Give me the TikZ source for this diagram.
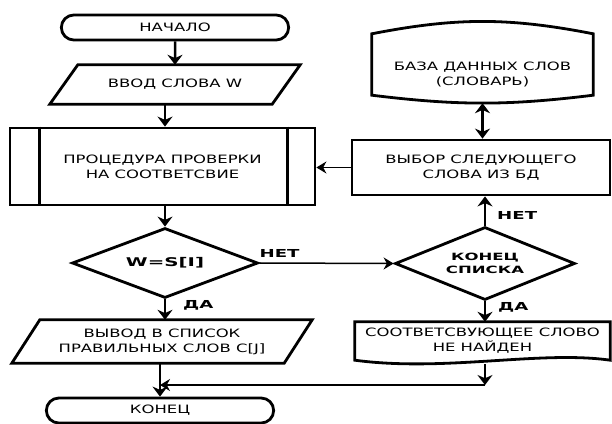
\documentclass[tikz,border=0pt]{standalone}
\usepackage{fontspec}
\setmainfont{DejaVu Sans}[FakeStretch=1.43]
\newfontfamily\flowbold{DejaVu Sans Bold}[FakeStretch=1.65]
\usepackage{tikz}
\usetikzlibrary{shapes.geometric, shapes.misc, arrows.meta, positioning, calc}

\begin{document}
\begin{tikzpicture}[
    x=1pt, y=-1pt,
    txt/.style={align=center, font=\fontsize{11.5}{15}\selectfont},
    term/.style={rounded rectangle, draw, line width=2.8pt, minimum width=234pt, minimum height=25pt, txt},
    io/.style={rectangle, inner sep=0pt, txt},
    proc/.style={rectangle, draw, line width=2.8pt, txt},
    dec/.style={diamond, aspect=2.5, draw, line width=2.8pt, inner sep=0pt, align=center, font=\flowbold\fontsize{10}{12.5}\selectfont},
    shapetext/.style={inner sep=0pt, txt},
    edge/.style={line width=2.8pt, line join=miter},
    lbl/.style={inner sep=0pt, font=\flowbold\fontsize{11}{12}\selectfont},
    arr/.style={-{Stealth[length=10pt, width=15pt]}, line width=2.5pt},
    thinarr/.style={-{Stealth[length=10pt, width=12pt]}, line width=1.5pt}
]
\useasboundingbox (0,0) rectangle (612,423);

% left column
\node[term] (start) at (175,27.5) {НАЧАЛО};
\node[io, minimum width=250pt, minimum height=39pt] (input) at (175,84.5) {ВВОД СЛОВА W};
\draw[edge] (input.south west) -- ($(input.north west)+(28,0)$) -- (input.north east)
    -- ($(input.south east)+(-28,0)$) -- cycle;
\node[proc, minimum width=305pt, minimum height=77pt] (check) at (162.5,166.5) {ПРОЦЕДУРА ПРОВЕРКИ\\НА СООТВЕТСВИЕ};
\draw[edge] ([xshift=31pt]check.north west) -- ([xshift=31pt]check.south west);
\draw[edge] ([xshift=-29pt]check.north east) -- ([xshift=-29pt]check.south east);
\node[dec, minimum width=186pt, minimum height=70pt, font=\flowbold\fontsize{12}{15}\selectfont] (cmp) at (165,263) {W=S[I]};
\node[io, minimum width=300pt, minimum height=43pt] (output) at (162,341.5) {ВЫВОД В СПИСОК\\ПРАВИЛЬНЫХ СЛОВ С[J]};
\draw[edge] (output.south west) -- ($(output.north west)+(28,0)$) -- (output.north east)
    -- ($(output.south east)+(-28,0)$) -- cycle;
\node[term] (stop) at (160,410.5) {КОНЕЦ};

% right column
\node[shapetext, minimum width=221pt, minimum height=61pt] (db) at (482.5,64.5) {};
\draw[edge] (db.south west) -- (db.north west) to[bend left=11] (db.north east)
    -- (db.south east) to[bend left=7] cycle;
\node[shapetext] (dbtext) at ($(db.center)+(0,10)$) {БАЗА ДАННЫХ СЛОВ\\(СЛОВАРЬ)};
\node[proc, minimum width=258pt, minimum height=55pt] (next) at (481,167.5) {ВЫБОР СЛЕДУЮЩЕГО\\СЛОВА ИЗ БД};
\node[dec, minimum width=180pt, minimum height=73pt] (last) at (485,263.5) {КОНЕЦ\\СПИСКА};
\node[shapetext, minimum width=255pt, minimum height=38pt] (notfound) at (482.5,341) {СООТВЕТСВУЮЩЕЕ СЛОВО\\НЕ НАЙДЕН};
\draw[edge] (notfound.south west) -- (notfound.north west) -- (notfound.north east) -- (notfound.south east)
    .. controls ($(notfound.south east)+(-70,-10)$) and ($(notfound.south west)+(90,12)$) .. cycle;

\coordinate (corner) at (485,385);
\coordinate (merge) at (160,385);

% connectors
\draw[arr] (start) -- (input);
\draw[arr] (input.south -| cmp) -- (check.north -| cmp);
\draw[arr] (check.south -| cmp) -- (cmp.north);
\draw[arr] (cmp.south) -- (output.north -| cmp);
\draw[arr] (output.south -| stop) -- (stop.north);
\draw[thinarr] (cmp.east) -- (last.west);
\draw[arr] (last.north) -- (next.south -| last);
\draw[thinarr] (next.west) -- (next.west -| check.east);
\draw[{Stealth[length=10pt, width=15pt]}-{Stealth[length=10pt, width=15pt]}, line width=2.5pt]
    ([yshift=-8pt]db.south) -- (next.north -| db);
\draw[arr] (last.south) -- (notfound.north -| last);
\draw[arr] ([yshift=-4pt]notfound.south -| last) -- (corner);
\draw[thinarr] (corner) -- (merge);

% labels
\node[lbl, anchor=south west] (no1) at ($(cmp.east)+(0,-5)$) {НЕТ};
\node[lbl, anchor=north west] (yes1) at ($(cmp.south)+(18,1)$) {ДА};
\node[lbl, anchor=south west] (no2) at ($(last.north)+(12,-6)$) {НЕТ};
\node[lbl, anchor=north west] (yes2) at ($(last.south)+(13,1)$) {ДА};
\end{tikzpicture}
\end{document}
